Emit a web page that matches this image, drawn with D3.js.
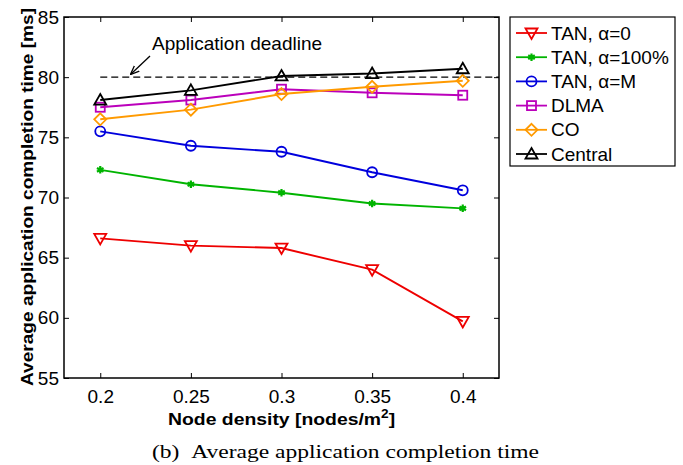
<!DOCTYPE html>
<html>
<head>
<meta charset="utf-8">
<script src="https://cdn.jsdelivr.net/npm/d3@7"></script>
<style>
  html, body { margin: 0; padding: 0; background: #fff; }
  svg { display: block; }
  svg text { fill: #000; }
</style>
</head>
<body>
<svg id="chart" width="683" height="465"></svg>
<script>
// Node densities (nodes/m^2) on the x axis
const densities = [0.2, 0.25, 0.3, 0.35, 0.4];
const xTicks = [0.2, 0.25, 0.3, 0.35, 0.4];
const yTicks = [55, 60, 65, 70, 75, 80, 85];

// Average application completion time [ms] per scheme
const tanAlpha0   = [66.6, 66.0, 65.8, 64.0, 59.7];
const tanAlpha100 = [72.3, 71.1, 70.4, 69.5, 69.1];
const tanAlphaM   = [75.5, 74.3, 73.8, 72.1, 70.6];
const dlma        = [77.5, 78.1, 79.0, 78.7, 78.5];
const co          = [76.5, 77.3, 78.6, 79.2, 79.7];
const central     = [78.1, 78.9, 80.1, 80.3, 80.7];

const deadline = 80;
const deadlineFrom = 0.2;

const seriesNames  = ["TAN, \u03b1=0", "TAN, \u03b1=100%", "TAN, \u03b1=M", "DLMA", "CO", "Central"];
const seriesValues = [tanAlpha0, tanAlpha100, tanAlphaM, dlma, co, central];
const seriesColors = ["#ee0000", "#00b400", "#0000dd", "#bb00bb", "#ff9a00", "#000000"];
const seriesMarks  = ["triDown", "star", "circle", "square", "diamond", "triUp"];

const SANS = "'Liberation Sans', Arial, Helvetica, sans-serif";
const SERIF = "'Liberation Serif', 'DejaVu Serif', serif";

const svg = d3.select("#chart").style("font-family", SANS);
const m = { left: 64, top: 17, right: 499, bottom: 378 };

const x = d3.scaleLinear().domain([0.18, 0.42]).range([m.left, m.right]);
const y = d3.scaleLinear().domain([55, 85]).range([m.bottom, m.top]);

// Ticks pointing inward on all four sides
const tick = 5;
svg.append("g")
  .attr("transform", `translate(0,${m.bottom})`)
  .call(d3.axisBottom(x).tickValues(xTicks).tickFormat(d => String(d)).tickSize(-tick).tickPadding(12))
  .call(g => g.select(".domain").remove())
  .call(g => g.selectAll("text").style("font-family", SANS).style("font-size", "19px"));
svg.append("g")
  .attr("transform", `translate(0,${m.top})`)
  .call(d3.axisTop(x).tickValues(xTicks).tickFormat("").tickSize(-tick))
  .call(g => g.select(".domain").remove());
svg.append("g")
  .attr("transform", `translate(${m.left},0)`)
  .call(d3.axisLeft(y).tickValues(yTicks).tickFormat(d3.format("d")).tickSize(-tick).tickPadding(5))
  .call(g => g.select(".domain").remove())
  .call(g => g.selectAll("text").style("font-family", SANS).style("font-size", "19px"));
svg.append("g")
  .attr("transform", `translate(${m.right},0)`)
  .call(d3.axisRight(y).tickValues(yTicks).tickFormat("").tickSize(-tick))
  .call(g => g.select(".domain").remove());
svg.selectAll(".tick line").attr("stroke", "#000").attr("stroke-width", 1);

// Deadline reference line
svg.append("line")
  .attr("x1", x(deadlineFrom)).attr("x2", m.right)
  .attr("y1", y(deadline)).attr("y2", y(deadline))
  .attr("stroke", "#000").attr("stroke-width", 1.3)
  .attr("stroke-dasharray", "7,4");

// Marker drawing helper
function drawMarker(g, type, color, cx, cy) {
  if (type === "circle") {
    g.append("circle").attr("cx", cx).attr("cy", cy).attr("r", 5)
      .attr("fill", "none").attr("stroke", color).attr("stroke-width", 1.8);
  } else if (type === "square") {
    g.append("rect").attr("x", cx - 4.5).attr("y", cy - 4.5).attr("width", 9).attr("height", 9)
      .attr("fill", "none").attr("stroke", color).attr("stroke-width", 1.8);
  } else if (type === "diamond") {
    const r = 6;
    g.append("path").attr("d", `M${cx},${cy - r}L${cx + r},${cy}L${cx},${cy + r}L${cx - r},${cy}Z`)
      .attr("fill", "none").attr("stroke", color).attr("stroke-width", 1.8);
  } else if (type === "triUp") {
    const r = 6;
    g.append("path").attr("d", `M${cx},${cy - r}L${cx + r},${cy + r * 0.75}L${cx - r},${cy + r * 0.75}Z`)
      .attr("fill", "none").attr("stroke", color).attr("stroke-width", 1.8);
  } else if (type === "triDown") {
    const r = 6;
    g.append("path").attr("d", `M${cx},${cy + r}L${cx + r},${cy - r * 0.75}L${cx - r},${cy - r * 0.75}Z`)
      .attr("fill", "none").attr("stroke", color).attr("stroke-width", 1.8);
  } else if (type === "star") {
    g.append("path").attr("transform", `translate(${cx},${cy})`)
      .attr("d", d3.symbol().type(d3.symbolAsterisk).size(40)())
      .attr("fill", "none").attr("stroke", color).attr("stroke-width", 2.2);
    g.append("circle").attr("cx", cx).attr("cy", cy).attr("r", 2.3).attr("fill", color);
  }
}

// Series lines and markers
const line = d3.line().x((d, i) => x(densities[i])).y(d => y(d));
seriesValues.forEach((vals, k) => {
  const g = svg.append("g");
  g.append("path").datum(vals).attr("d", line)
    .attr("fill", "none").attr("stroke", seriesColors[k]).attr("stroke-width", 1.9);
  vals.forEach((v, i) => drawMarker(g, seriesMarks[k], seriesColors[k], x(densities[i]), y(v)));
});

// Plot frame
svg.append("rect")
  .attr("x", m.left).attr("y", m.top)
  .attr("width", m.right - m.left).attr("height", m.bottom - m.top)
  .attr("fill", "none").attr("stroke", "#000").attr("stroke-width", 1.5);

// Annotation with arrow
svg.append("defs").append("marker")
  .attr("id", "arrowhead").attr("viewBox", "0 0 10 10")
  .attr("refX", 9).attr("refY", 5).attr("markerWidth", 9).attr("markerHeight", 9)
  .attr("markerUnits", "userSpaceOnUse").attr("orient", "auto")
  .append("path").attr("d", "M0,1L10,5L0,9").attr("fill", "none").attr("stroke", "#000").attr("stroke-width", 1.4);
svg.append("line")
  .attr("x1", 150).attr("y1", 56).attr("x2", 131).attr("y2", 74)
  .attr("stroke", "#000").attr("stroke-width", 1.3).attr("marker-end", "url(#arrowhead)");
svg.append("text").attr("x", 152).attr("y", 50)
  .style("font-size", "19px").text("Application deadline");

// Legend
const lg = svg.append("g");
lg.append("rect").attr("x", 510).attr("y", 17).attr("width", 165).attr("height", 149)
  .attr("fill", "#fff").attr("stroke", "#000").attr("stroke-width", 1.2);
seriesNames.forEach((name, k) => {
  const ly = 33 + k * 24.2;
  lg.append("line").attr("x1", 516).attr("x2", 547).attr("y1", ly).attr("y2", ly)
    .attr("stroke", seriesColors[k]).attr("stroke-width", 1.8);
  drawMarker(lg, seriesMarks[k], seriesColors[k], 531.5, ly);
  lg.append("text").attr("x", 551).attr("y", ly + 6.5).style("font-size", "19px").text(name);
});

// Axis titles
const xt = svg.append("text")
  .attr("transform", "translate(168,425) scale(1.14,1)")
  .style("font-size", "17px").style("font-weight", "bold");
xt.append("tspan").text("Node density [nodes/m");
xt.append("tspan").attr("dy", -7).style("font-size", "12px").text("2");
xt.append("tspan").attr("dy", 7).text("]");

svg.append("text")
  .attr("transform", "translate(33,197) rotate(-90)")
  .attr("text-anchor", "middle")
  .attr("textLength", 378).attr("lengthAdjust", "spacingAndGlyphs")
  .style("font-size", "17px").style("font-weight", "bold")
  .text("Average application completion time [ms]");

// Caption
svg.append("text")
  .attr("x", 152).attr("y", 458)
  .attr("textLength", 387).attr("lengthAdjust", "spacingAndGlyphs")
  .style("font-family", SERIF).style("font-size", "19px")
  .text("(b)\u00a0\u00a0Average application completion time");
</script>
</body>
</html>
